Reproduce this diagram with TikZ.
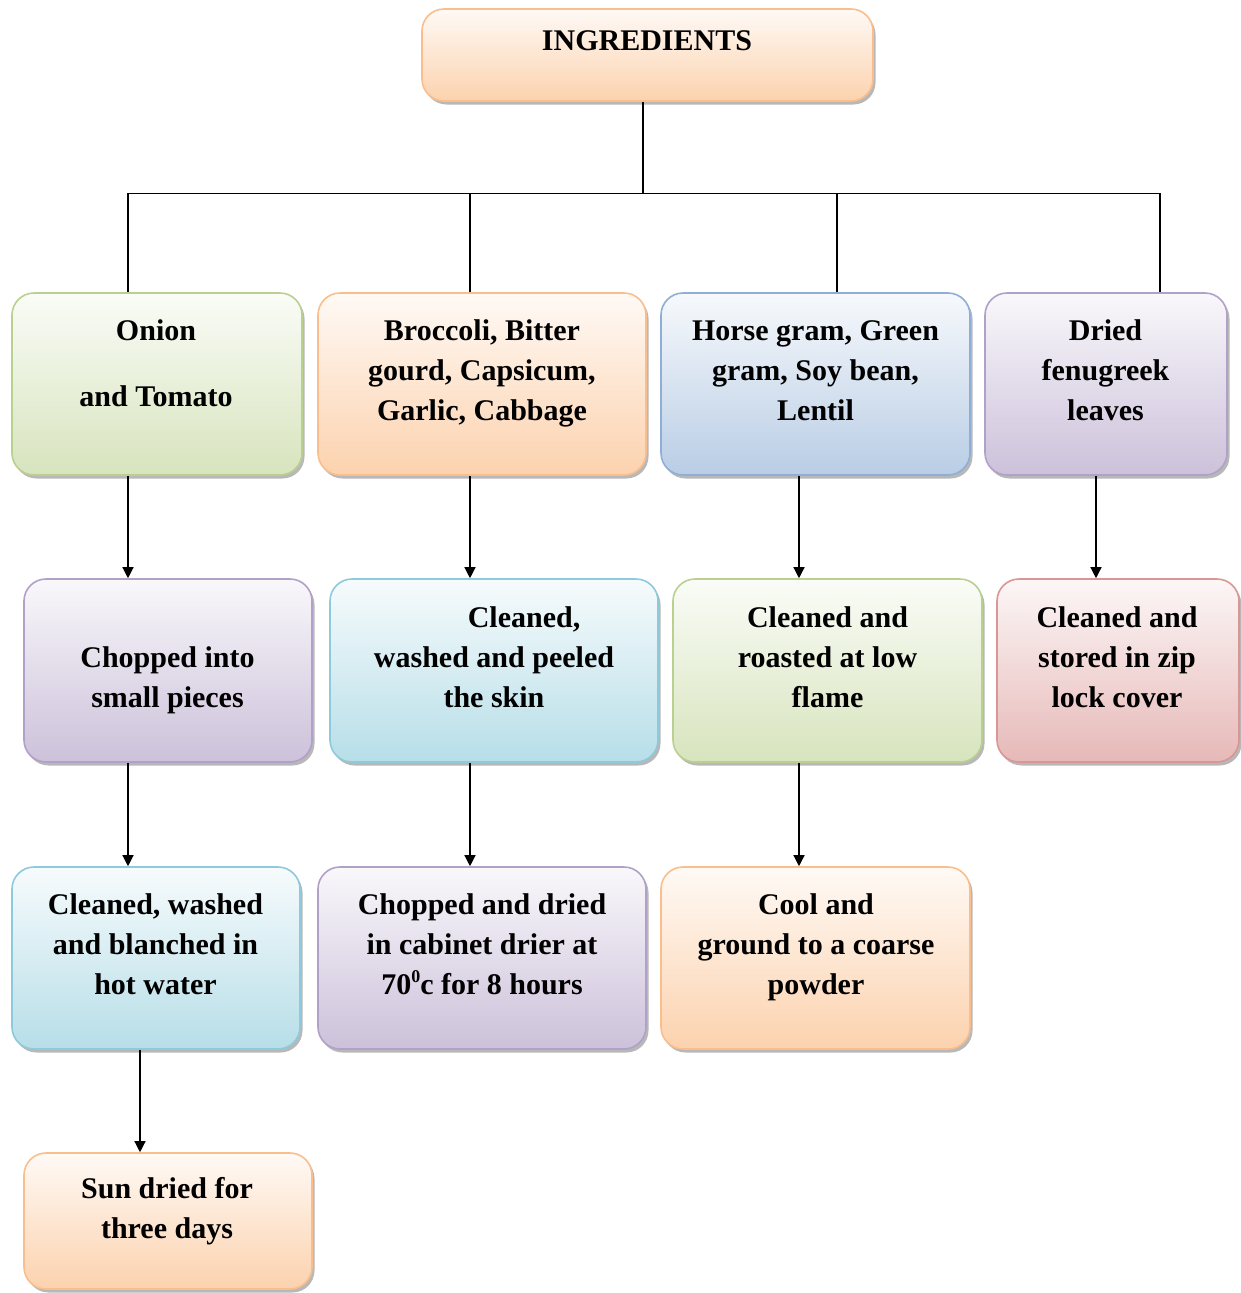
\documentclass[tikz,border=0pt]{standalone}
\usepackage{fontspec}
\setmainfont{Liberation Serif}
\usetikzlibrary{arrows.meta,shadows}
\definecolor{grF}{HTML}{D7E4BD}\definecolor{grB}{HTML}{B9D08E}
\definecolor{orF}{HTML}{FCD2AE}\definecolor{orB}{HTML}{F9BE8C}
\definecolor{blF}{HTML}{B9CDE5}\definecolor{blB}{HTML}{8FAED6}
\definecolor{puF}{HTML}{CCC1DA}\definecolor{puB}{HTML}{B1A0C7}
\definecolor{aqF}{HTML}{B7DEE8}\definecolor{aqB}{HTML}{8DCADB}
\definecolor{rdF}{HTML}{E6B9B8}\definecolor{rdB}{HTML}{D99694}
\tikzset{
  box/.style 2 args={draw=#2, line width=1.6pt, rounded corners=22pt,
    top color=#1!12, bottom color=#1, inner sep=0pt,
    drop shadow={shadow xshift=2.5pt, shadow yshift=-3.5pt, fill=black, opacity=0.28}},
  txt/.style={font=\fontsize{30}{40}\selectfont\bfseries, align=center, inner sep=0pt},
  conn/.style={line width=1.3pt, black},
  arr/.style={conn, -{Triangle[length=11pt,width=11pt]}},
}
\begin{document}
\begin{tikzpicture}[x=1pt,y=-1pt]
\useasboundingbox (0,0) rectangle (1241,1293);
\begin{scope}
\clip (0,0) rectangle (1241,1293);
% boxes
\node[box={orF}{orB}, minimum width=451pt, minimum height=92pt] (ING) at (647.5,55) {};
\node[box={grF}{grB}, minimum width=290pt, minimum height=182pt] (A) at (157,384) {};
\node[box={orF}{orB}, minimum width=328pt, minimum height=182pt] (B) at (482,384) {};
\node[box={blF}{blB}, minimum width=309pt, minimum height=182pt] (C) at (815.5,384) {};
\node[box={puF}{puB}, minimum width=242pt, minimum height=182pt] (D) at (1106,384) {};
\node[box={puF}{puB}, minimum width=288pt, minimum height=183pt] (E) at (168,670.5) {};
\node[box={aqF}{aqB}, minimum width=328pt, minimum height=183pt] (F) at (494,670.5) {};
\node[box={grF}{grB}, minimum width=309pt, minimum height=183pt] (G) at (827.5,670.5) {};
\node[box={rdF}{rdB}, minimum width=242pt, minimum height=183pt] (H) at (1118,670.5) {};
\node[box={aqF}{aqB}, minimum width=288pt, minimum height=182pt] (I) at (156,958) {};
\node[box={puF}{puB}, minimum width=328pt, minimum height=182pt] (J) at (482,958) {};
\node[box={orF}{orB}, minimum width=309pt, minimum height=182pt] (K) at (815.5,958) {};
\node[box={orF}{orB}, minimum width=288pt, minimum height=136pt] (L) at (168,1221) {};
\end{scope}
% texts
\node[txt] (INGt) at (647,41) {INGREDIENTS};
\node[txt] (At) at (156,363) {Onion\\[26pt]and Tomato};
\node[txt] (Bt) at (482,373) {Broccoli, Bitter\\gourd, Capsicum,\\Garlic, Cabbage};
\node[txt] (Ct) at (815.5,371) {Horse gram, Green\\gram, Soy bean,\\Lentil};
\node[txt] (Dt) at (1105.5,370) {Dried\\fenugreek\\leaves};
\node[txt] (Et) at (167.5,680) {Chopped into\\small pieces};
\node[txt] (Ft) at (494,657) {\hspace*{60pt}Cleaned,\\washed and peeled\\the skin};
\node[txt] (Gt) at (827.5,657) {Cleaned and\\roasted at low\\flame};
\node[txt] (Ht) at (1117,657) {Cleaned and\\stored in zip\\lock cover};
\node[txt] (It) at (155.5,944) {Cleaned, washed\\and blanched in\\hot water};
\node[txt] (Jt) at (482,944) {Chopped and dried\\in cabinet drier at\\70\raisebox{12pt}{\fontsize{18}{18}\selectfont 0}c for 8 hours};
\node[txt] (Kt) at (816,947) {Cool and\\ground to a coarse\\powder};
\node[txt] (Lt) at (167,1211) {Sun dried for\\three days};
% tree connectors
\draw[conn] ([xshift=-4.5pt]ING.south) -- ++(0,92) coordinate (bus);
\draw[conn] ([xshift=-29pt]A.north) |- (bus) -| ([xshift=54pt]D.north);
\draw[conn] ([xshift=-12pt]B.north) -- ([xshift=-12pt]B.north |- bus);
\draw[conn] ([xshift=21.5pt]C.north) -- ([xshift=21.5pt]C.north |- bus);
% arrows
\draw[arr] ([xshift=-29pt]A.south) -- ([xshift=-40pt]E.north);
\draw[arr] ([xshift=-12pt]B.south) -- ([xshift=-24pt]F.north);
\draw[arr] ([xshift=-16.5pt]C.south) -- ([xshift=-28.5pt]G.north);
\draw[arr] ([xshift=-10pt]D.south) -- ([xshift=-22pt]H.north);
\draw[arr] ([xshift=-40pt]E.south) -- ([xshift=-28pt]I.north);
\draw[arr] ([xshift=-24pt]F.south) -- ([xshift=-12pt]J.north);
\draw[arr] ([xshift=-28.5pt]G.south) -- ([xshift=-16.5pt]K.north);
\draw[arr] ([xshift=-16pt]I.south) -- ([xshift=-28pt]L.north);
\end{tikzpicture}
\end{document}
